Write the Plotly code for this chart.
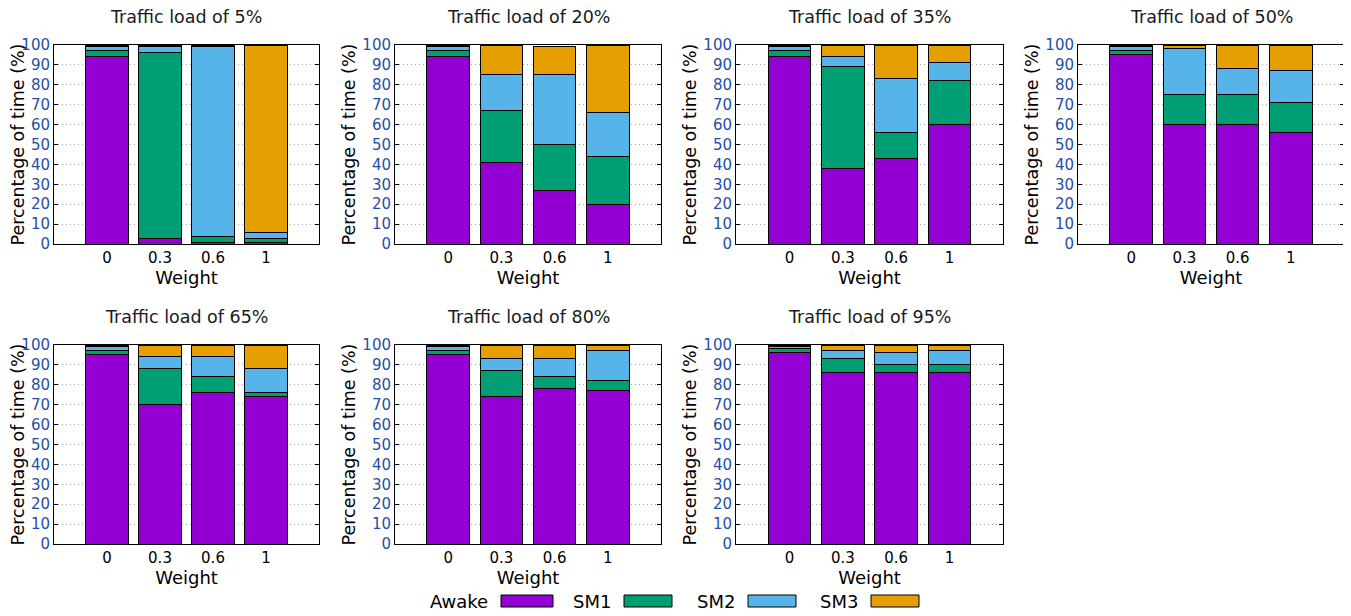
import plotly.graph_objects as go

weights = ["0", "0.3", "0.6", "1"]
loads = [5, 20, 35, 50, 65, 80, 95]
states = ["Awake", "SM1", "SM2", "SM3"]
colors = ["#9400D3", "#009E73", "#56B4E9", "#E69F00"]

# rows: traffic loads, columns: weights
awake = [[94, 3, 1, 1], [94, 41, 27, 20], [94, 38, 43, 60], [95, 60, 60, 56],
         [95, 70, 76, 74], [95, 74, 78, 77], [96, 86, 86, 86]]
sm1 = [[3, 93, 3, 2], [3, 26, 23, 24], [3, 51, 13, 22], [2, 15, 15, 15],
       [2, 18, 8, 2], [2, 13, 6, 5], [2, 7, 4, 4]]
sm2 = [[2, 3, 95, 3], [2, 18, 35, 22], [2, 5, 27, 9], [2, 23, 13, 16],
       [2, 6, 10, 12], [2, 6, 9, 15], [1, 4, 6, 7]]
sm3 = [[1, 1, 1, 94], [1, 15, 14, 34], [1, 6, 17, 9], [1, 2, 12, 13],
       [1, 6, 6, 12], [1, 7, 7, 3], [1, 3, 4, 3]]
series = [awake, sm1, sm2, sm3]

# page has an 8px body margin; offset the layout accordingly
PAD = 8
W, H = 1351 - PAD, 616 - PAD


def px(x):
    return (x - PAD) / W


def py(y):
    return 1 - (y - PAD) / H


col_px = [(54, 319), (395, 661), (736, 1003), (1078, 1344)]
row_px = [(45, 244), (345, 544)]

fig = go.Figure()
font = "DejaVu Sans"
annotations = []
for i, load in enumerate(loads):
    r, c = divmod(i, 4)
    n = i + 1
    xa = "x" if n == 1 else f"x{n}"
    ya = "y" if n == 1 else f"y{n}"
    for s, name in enumerate(states):
        fig.add_trace(go.Bar(
            x=weights, y=series[s][i], name=name, xaxis=xa, yaxis=ya,
            marker=dict(color=colors[s], line=dict(color="black", width=1)),
            width=0.8, showlegend=False))
    x0, x1 = col_px[c]
    y0, y1 = row_px[r]
    xkey = "xaxis" if n == 1 else f"xaxis{n}"
    ykey = "yaxis" if n == 1 else f"yaxis{n}"
    fig.layout[xkey] = dict(
        domain=[px(x0), px(x1)], anchor=ya, type="category", range=[-1, 4],
        showline=True, mirror=True, linecolor="black", linewidth=1,
        ticks="", tickfont=dict(size=15, color="black", family=font),
        title=dict(text="Weight", font=dict(size=18, color="black", family=font), standoff=0),
        showgrid=False, fixedrange=True, automargin=False)
    fig.layout[ykey] = dict(
        domain=[py(y1), py(y0)], anchor=xa, range=[0, 100], dtick=10,
        showline=True, mirror="allticks", linecolor="black", linewidth=1,
        ticks="inside", ticklen=4, tickcolor="black",
        tickfont=dict(size=15, color="#1F4FA8", family=font),
        title=dict(text="Percentage of time (%)", font=dict(size=17.5, color="black", family=font), standoff=2),
        showgrid=True, gridcolor="#A8A8A8", griddash="1px,3px", gridwidth=1,
        zeroline=False, fixedrange=True, automargin=False)
    annotations.append(dict(
        text=f"Traffic load of {load}%", xref="paper", yref="paper",
        x=px((x0 + x1) / 2), y=py(y0 - 28), xanchor="center", yanchor="middle",
        showarrow=False, font=dict(size=17.5, color="#1A1A1A", family=font)))

# custom gnuplot-style legend (label then swatch)
leg_text_x = [490, 613, 737, 860]
leg_box = [(501, 553), (624, 672), (748, 796), (871, 919)]
shapes = []
for s, name in enumerate(states):
    annotations.append(dict(
        text=name, xref="paper", yref="paper", x=px(leg_text_x[s]), y=py(601),
        xanchor="right", yanchor="middle", showarrow=False,
        font=dict(size=18, color="black", family=font)))
    bx0, bx1 = leg_box[s]
    shapes.append(dict(type="rect", xref="paper", yref="paper",
                       x0=px(bx0), x1=px(bx1), y0=py(607), y1=py(595),
                       fillcolor=colors[s], line=dict(color="black", width=1)))

fig.update_layout(
    barmode="stack", width=W, height=H, margin=dict(l=0, r=0, t=0, b=0),
    plot_bgcolor="white", paper_bgcolor="white",
    annotations=annotations, shapes=shapes, showlegend=False,
    font=dict(family=font))

fig.write_html("out.html")
